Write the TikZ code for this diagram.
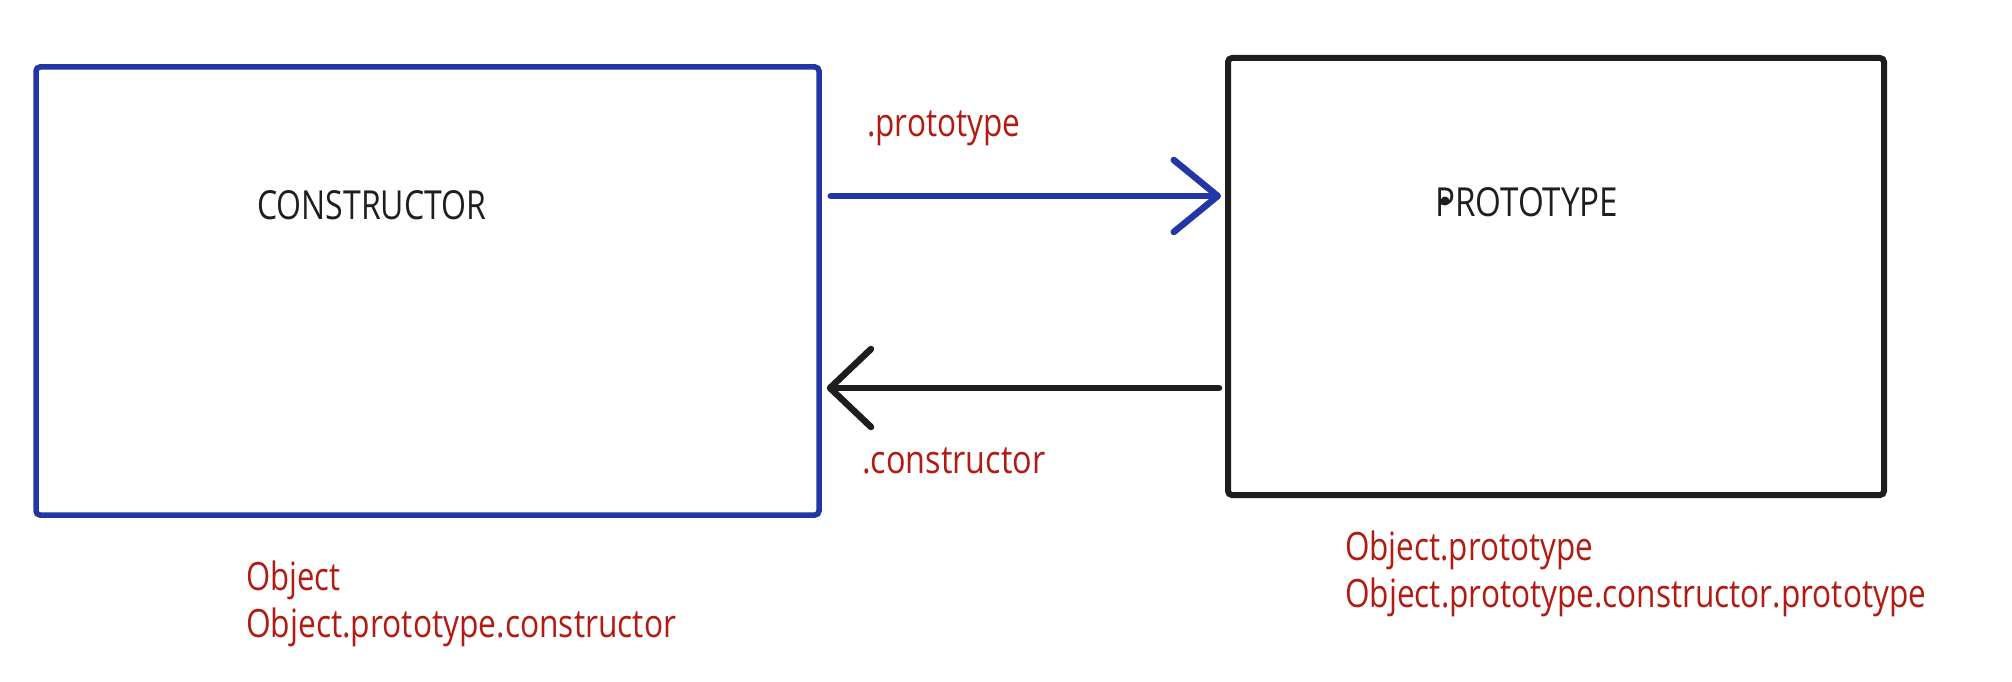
\documentclass[tikz,border=0pt]{standalone}
\usepackage{fontspec}
\usepackage{graphicx}
\setmainfont{Open Sans}
\usetikzlibrary{arrows.meta}
\definecolor{blueink}{RGB}{35,54,166}
\definecolor{blackink}{RGB}{30,30,30}
\definecolor{redink}{RGB}{178,26,18}
\newcommand{\fitw}[2]{\resizebox{#1}{\height}{#2}}
\tikzset{
  cbox/.style={draw=blueink, line width=5.5pt, rounded corners=4pt, rectangle, inner sep=0pt},
  pbox/.style={draw=blackink, line width=6pt, rounded corners=4pt, rectangle, inner sep=0pt},
  blk/.style={text=blackink, inner sep=0pt, font=\fontsize{40}{48}\selectfont},
  red/.style={text=redink, inner sep=0pt, font=\fontsize{39}{48}\selectfont},
  bluearr/.style={draw=blueink, line width=6.5pt, line cap=round, line join=round,
    -{Straight Barb[length=44pt, width=72pt, line cap=round, line join=round]}},
  blackarr/.style={draw=blackink, line width=6.5pt, line cap=round, line join=round,
    -{Straight Barb[length=41pt, width=78pt, line cap=round, line join=round]}}
}
\begin{document}
\begin{tikzpicture}[x=1pt,y=-1pt]
\useasboundingbox (0,0) rectangle (2012,682);
\fill[white] (0,0) rectangle (2012,682);
% boxes
\node[cbox, minimum width=783pt, minimum height=448pt] (ctor) at (427.5,291) {};
\node[pbox, minimum width=656pt, minimum height=437pt] (proto) at (1556,276.5) {};
% box titles
\node[blk, anchor=base west] (ctorlbl) at (257,219) {\fitw{229pt}{CONSTRUCTOR}};
\node[blk, anchor=base west] (protolbl) at (1435,216) {\fitw{183pt}{PROTOTYPE}};
\fill[blackink] (1445,201) circle (4.5pt);
% connectors
\coordinate (a1) at (0,196);
\coordinate (a2) at (0,388);
\draw[bluearr, shorten <=9pt, shorten >=4pt] (ctor.east |- a1) -- (proto.west |- a1);
\draw[blackarr, shorten <=6pt, shorten >=5pt] (proto.west |- a2) -- (ctor.east |- a2);
% connector labels
\node[red, anchor=base west] (lprot) at (867,136) {\fitw{153pt}{.prototype}};
\node[red, anchor=base west] (lcons) at (862,473) {\fitw{183pt}{.constructor}};
% captions
\node[red, anchor=base west] (c1) at (246,590) {\fitw{94pt}{Object}};
\node[red, anchor=base west] (c2) at (246,637) {\fitw{430pt}{Object.prototype.constructor}};
\node[red, anchor=base west] (p1) at (1345,560) {\fitw{248pt}{Object.prototype}};
\node[red, anchor=base west] (p2) at (1345,607) {\fitw{581pt}{Object.prototype.constructor.prototype}};
\end{tikzpicture}
\end{document}
